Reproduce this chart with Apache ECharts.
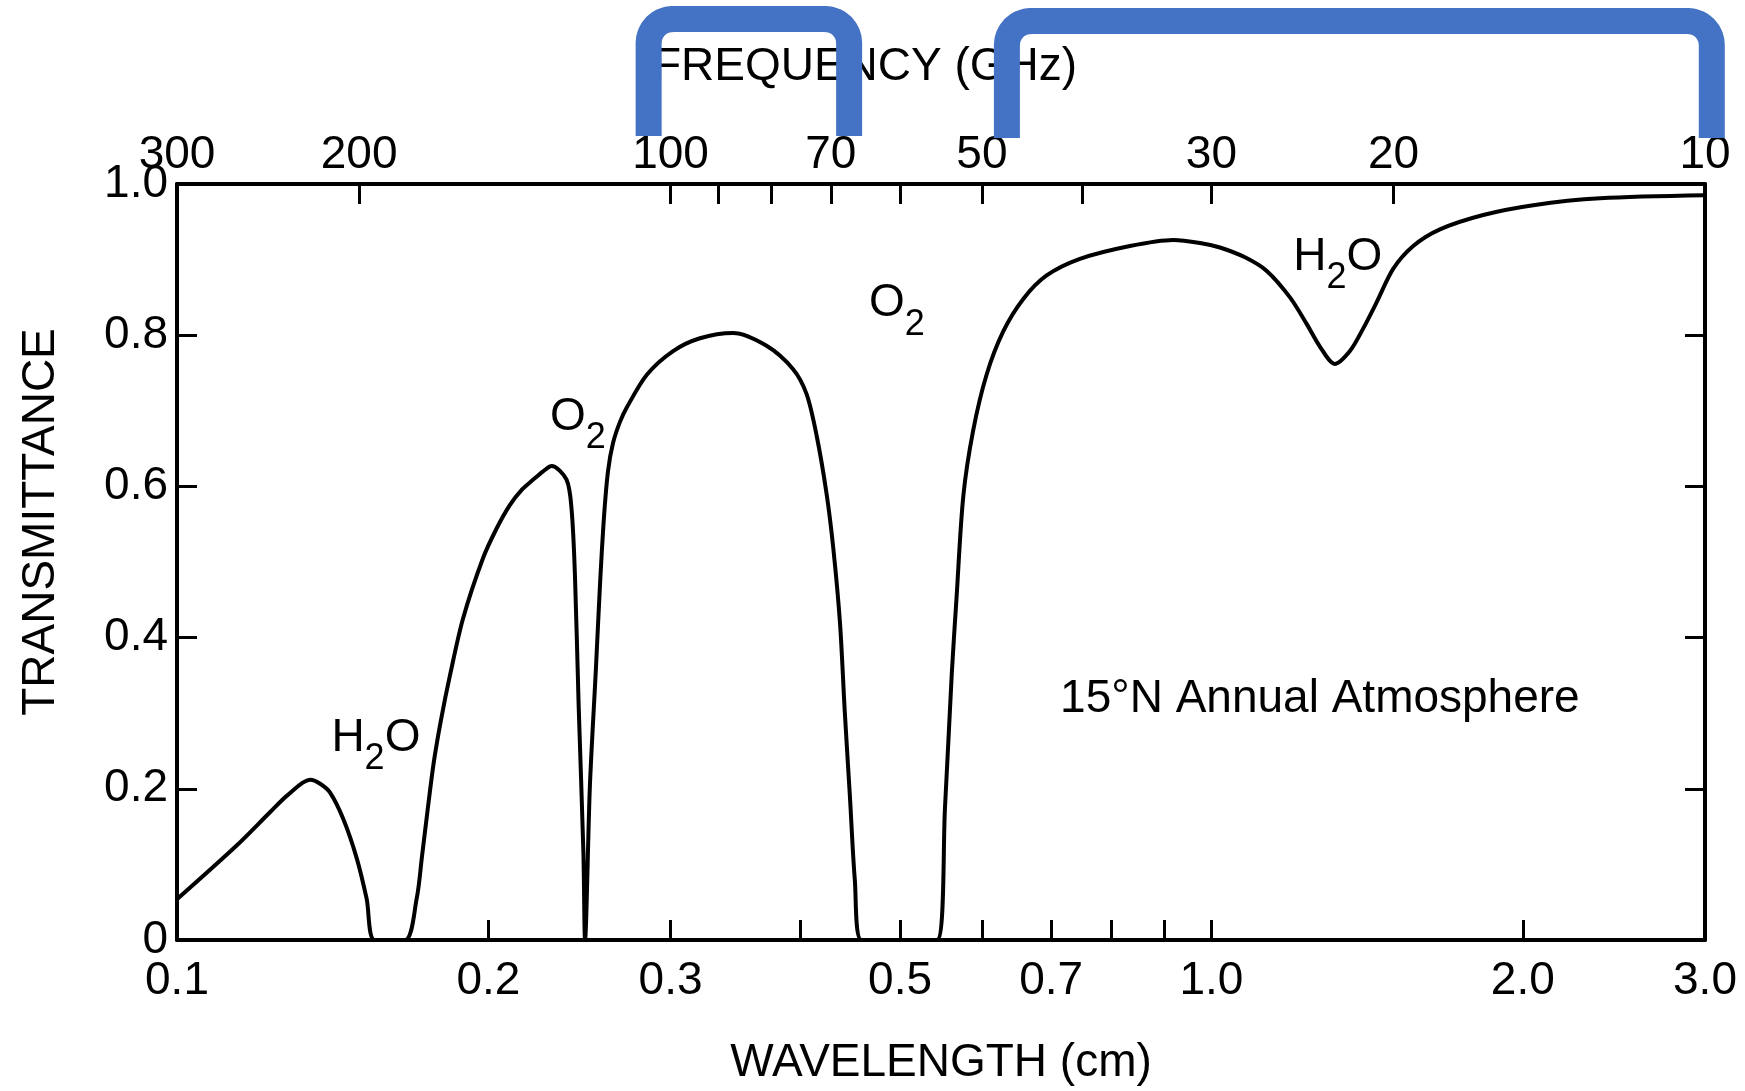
<!DOCTYPE html>
<html>
<head>
<meta charset="utf-8">
<script src="https://cdn.jsdelivr.net/npm/echarts@6/dist/echarts.min.js"></script>
<style>
  html, body { margin: 0; padding: 0; background: #fff; }
  #chart { width: 1745px; height: 1091px; }
</style>
</head>
<body>
<div id="chart"></div>
<script>
// ---- data ----
// wavelength (cm) and transmittance of the 15°N annual atmosphere
const wavelengthCm = [
  0.100, 0.1142, 0.1230, 0.1280, 0.1345, 0.1374, 0.1406, 0.1448, 0.1492, 0.1525, 0.1553,
  0.1661, 0.1705, 0.1725, 0.1748, 0.1771, 0.1799, 0.1836, 0.1890, 0.1976, 0.2038, 0.2097, 0.2156, 0.2210, 0.2259,
  0.2302, 0.2380, 0.2407, 0.2425, 0.2445, 0.2471, 0.2480,
  0.2507, 0.2541, 0.2564, 0.2587, 0.2610, 0.2639, 0.2680, 0.2723, 0.2847, 0.3017, 0.3203,
  0.3447, 0.3715, 0.3941, 0.4061, 0.4153, 0.4246, 0.4309, 0.4374, 0.4422, 0.4472, 0.4521, 0.4590,
  0.5427, 0.5527, 0.5610, 0.5672, 0.5756, 0.5884, 0.6063, 0.6291, 0.6578, 0.6929, 0.7462,
  0.8340, 0.9186, 0.9748, 1.019, 1.0775, 1.131, 1.191, 1.236, 1.273, 1.316, 1.361, 1.402, 1.445,
  1.499, 1.567, 1.663, 1.831, 2.047, 2.375, 3.000
];
const transmittance = [
  0.054, 0.125, 0.169, 0.192, 0.212, 0.207, 0.195, 0.160, 0.108, 0.055, 0.0,
  0.0, 0.055, 0.110, 0.175, 0.235, 0.290, 0.350, 0.425, 0.505, 0.545, 0.575, 0.596, 0.609, 0.620,
  0.627, 0.609, 0.569, 0.482, 0.310, 0.116, 0.0,
  0.204, 0.360, 0.470, 0.560, 0.620, 0.657, 0.685, 0.705, 0.748, 0.779, 0.796,
  0.803, 0.786, 0.755, 0.722, 0.667, 0.590, 0.519, 0.420, 0.300, 0.190, 0.080, 0.0,
  0.0, 0.177, 0.352, 0.456, 0.587, 0.674, 0.748, 0.805, 0.848, 0.879, 0.901,
  0.918, 0.926, 0.922, 0.916, 0.903, 0.885, 0.850, 0.815, 0.785, 0.762, 0.779, 0.809, 0.844,
  0.888, 0.918, 0.940, 0.959, 0.972, 0.981, 0.985
];

// axis ticks / labels
const wlTicks = [0.1, 0.2, 0.3, 0.4, 0.5, 0.6, 0.7, 0.8, 0.9, 1.0, 2.0, 3.0];
const wlLabels = [0.1, 0.2, 0.3, 0.5, 0.7, 1.0, 2.0, 3.0];
const freqTicks = [300, 200, 100, 90, 80, 70, 60, 50, 40, 30, 20, 10];
const freqLabels = [300, 200, 100, 70, 50, 30, 20, 10];

// gas labels: text, wavelength, transmittance of the label anchor
const gasNames = ['{b|H}{s|2}{b|O}', '{b|O}{s|2}', '{b|O}{s|2}', '{b|H}{s|2}{b|O}', '{n|15°N Annual Atmosphere}'];
const gasWl = [0.1557, 0.2441, 0.4966, 1.325, 1.273];
const gasT = [0.256, 0.681, 0.831, 0.893, 0.319];

// highlighted frequency bands (GHz), drawn as brackets above the chart
const bandsGHz = [[105, 67.2], [47.3, 9.85]];

const FONT = 'Liberation Sans';
const C_FREQ = 30; // f(GHz) = 30 / wavelength(cm)
const lg = Math.log10;

const chart = echarts.init(document.getElementById('chart'));

const axisCommon = {
  type: 'value',
  min: -1,
  max: lg(3),
  splitLine: { show: false },
  axisLine: { onZero: false, lineStyle: { color: '#000', width: 4 } },
  axisTick: { inside: true, length: 20, lineStyle: { color: '#000', width: 3 } },
  nameLocation: 'middle',
  nameTextStyle: { fontFamily: FONT, fontSize: 46, color: '#000' }
};

const option = {
  backgroundColor: '#fff',
  animation: false,
  grid: { left: 177, right: 40, top: 184, bottom: 142 },
  xAxis: [
    Object.assign({}, axisCommon, {
      position: 'bottom',
      name: 'WAVELENGTH (cm)',
      nameGap: 100,
      axisTick: Object.assign({}, axisCommon.axisTick, { customValues: wlTicks.map(lg) }),
      axisLabel: {
        customValues: wlLabels.map(lg),
        formatter: v => Math.pow(10, v).toFixed(1),
        fontFamily: FONT, fontSize: 46, color: '#000', margin: 18
      }
    }),
    Object.assign({}, axisCommon, {
      position: 'top',
      name: 'FREQUENCY (GHz)',
      nameGap: 94,
      nameTextStyle: Object.assign({}, axisCommon.nameTextStyle, { padding: [0, 152, 0, 0] }),
      axisTick: Object.assign({}, axisCommon.axisTick, { customValues: freqTicks.map(f => lg(C_FREQ / f)) }),
      axisLabel: {
        customValues: freqLabels.map(f => lg(C_FREQ / f)),
        formatter: v => String(Math.round(C_FREQ / Math.pow(10, v))),
        fontFamily: FONT, fontSize: 46, color: '#000', margin: 6
      }
    })
  ],
  yAxis: [
    {
      type: 'value', min: 0, max: 1, interval: 0.2, position: 'left',
      splitLine: { show: false },
      axisLine: { onZero: false, lineStyle: { color: '#000', width: 4 } },
      axisTick: { inside: true, length: 20, lineStyle: { color: '#000', width: 3 } },
      axisLabel: {
        formatter: v => (v === 0 ? '0' : v.toFixed(1)),
        fontFamily: FONT, fontSize: 46, color: '#000', margin: 9
      },
      name: 'TRANSMITTANCE',
      nameLocation: 'middle',
      nameGap: 113,
      nameTextStyle: { fontFamily: FONT, fontSize: 46, color: '#000', padding: [0, 0, 0, 80] }
    },
    {
      type: 'value', min: 0, max: 1, interval: 0.2, position: 'right',
      splitLine: { show: false },
      axisLine: { onZero: false, lineStyle: { color: '#000', width: 4 } },
      axisTick: { inside: true, length: 20, lineStyle: { color: '#000', width: 3 } },
      axisLabel: { show: false }
    }
  ],
  series: [
    {
      type: 'line',
      xAxisIndex: 0,
      yAxisIndex: 0,
      showSymbol: false,
      smooth: 0.3,
      lineStyle: { color: '#000', width: 4 },
      data: wavelengthCm.map((w, i) => [lg(w), transmittance[i]])
    },
    {
      type: 'scatter',
      xAxisIndex: 0,
      yAxisIndex: 0,
      symbolSize: 0,
      silent: true,
      itemStyle: { opacity: 1 },
      data: gasNames.map((n, i) => ({ name: n, value: [lg(gasWl[i]), gasT[i]] })),
      label: {
        show: true,
        position: 'inside',
        formatter: p => p.name,
        color: '#000',
        opacity: 1,
        textBorderWidth: 0,
        rich: {
          // subscript: tall line box, glyph pushed to the bottom
          b: { fontFamily: FONT, fontSize: 46, color: '#000', lineHeight: 46, verticalAlign: 'top', textBorderWidth: 0 },
          s: { fontFamily: FONT, fontSize: 36, color: '#000', lineHeight: 62, verticalAlign: 'bottom', textBorderWidth: 0 },
          n: { fontFamily: FONT, fontSize: 46, color: '#000', textBorderWidth: 0 }
        }
      }
    }
  ]
};

chart.setOption(option);

// blue brackets above the frequency axis (rounded top corners)
const bracketTop = [19, 21];
const bracketBottom = [136, 138];
const cornerR = 24;
function bracketPoints(x1, x2, t, b, r) {
  const pts = [[x1, b]];
  for (let k = 0; k <= 8; k++) {
    const a = Math.PI - (k / 8) * Math.PI / 2;
    pts.push([x1 + r + r * Math.cos(a), t + r - r * Math.sin(a)]);
  }
  for (let k = 0; k <= 8; k++) {
    const a = Math.PI / 2 - (k / 8) * Math.PI / 2;
    pts.push([x2 - r + r * Math.cos(a), t + r - r * Math.sin(a)]);
  }
  pts.push([x2, b]);
  return pts;
}
const graphics = bandsGHz.map((band, i) => {
  const x1 = chart.convertToPixel({ xAxisIndex: 0 }, lg(C_FREQ / band[0]));
  const x2 = chart.convertToPixel({ xAxisIndex: 0 }, lg(C_FREQ / band[1]));
  return {
    type: 'polyline',
    z: 100,
    shape: { points: bracketPoints(x1, x2, bracketTop[i], bracketBottom[i], cornerR) },
    style: { fill: null, stroke: '#4472C4', lineWidth: 26, lineJoin: 'round' }
  };
});
chart.setOption({ graphic: graphics });

window.addEventListener('resize', () => chart.resize());
</script>
</body>
</html>
